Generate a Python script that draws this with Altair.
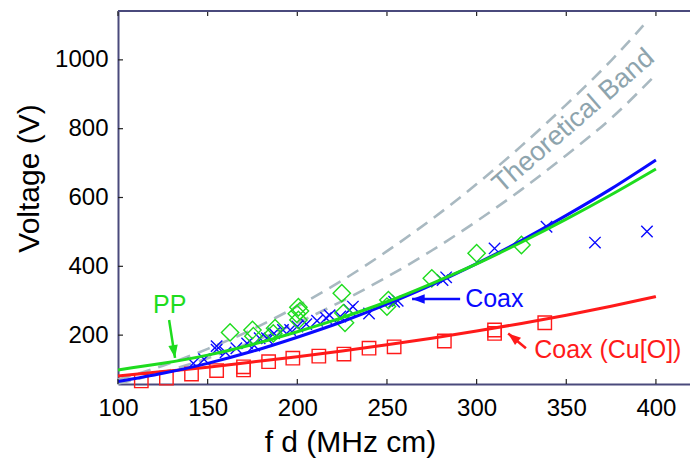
import altair as alt
import pandas as pd

FONT = "Liberation Sans"
FRAME = "#4a4a7c"
BLUE = "#0a0aff"
GREEN = "#1edc1e"
RED = "#ff1a1a"
BAND = "#a9b9c1"
BAND_TXT = "#8ea4ad"

# ---- fitted curves ----
curve_x = [100, 125, 150, 175, 200, 225, 250, 275, 300, 325, 350, 375, 400]
coax_fit = [65, 89, 118, 153, 194, 239, 290, 346, 408, 475, 548, 625, 709]
pp_fit = [99, 118, 142, 173, 210, 251, 297, 350, 407, 470, 537, 608, 683]
cu_fit = [81, 94, 107, 122, 137, 154, 172, 191, 212, 234, 258, 284, 312]
band_x = [100, 125, 150, 175, 200, 225, 250, 275, 300, 325, 350, 375, 393]
band_upper = [71, 111, 160, 217, 284, 359, 444, 537, 639, 750, 870, 998, 1100]
band_lower_x = [100, 125, 150, 175, 200, 225, 250, 275, 300, 325, 350, 375, 399]
band_lower = [59, 92, 133, 181, 236, 299, 369, 446, 531, 623, 723, 830, 952]

# ---- measured points ----
coax_x = [142, 148, 155, 155, 160, 166, 172, 176, 179, 183, 187, 192, 196, 200, 205,
          211, 216, 218, 224, 229, 231, 240, 254, 256, 281, 283, 310, 339, 366, 395]
coax_y = [118, 130, 168, 158, 150, 162, 176, 170, 191, 191, 205, 215, 215, 225, 232,
          242, 250, 258, 254, 273, 283, 263, 297, 300, 360, 368, 452, 515, 469, 501]
pp_x = [162.5, 175, 175.5, 187.6, 186.6, 200.6, 199.7, 200.6, 201.5, 224.8, 225.7,
        226.6, 250.8, 250, 275, 300, 325]
pp_y = [208, 215, 197, 220, 205, 281, 262, 244, 270, 322, 264, 236, 302, 283, 365, 438, 462]
cu_x = [113, 127, 141, 155, 170, 170, 184, 197.5, 212, 226, 240, 254, 282, 310, 310, 338]
cu_y = [67, 75, 87, 97, 108, 99, 123, 133, 139, 145, 162, 166, 183, 215, 205, 236]

# ---- axes ----
x_ticks = [100, 150, 200, 250, 300, 350, 400]
y_ticks = [200, 400, 600, 800, 1000]
X_DOMAIN = [100, 419]
Y_DOMAIN = [58, 1142]

# ---- annotations ----
label_text = ["PP", "Coax", "Coax (Cu[O])"]
label_x = [119.5, 293.6, 332.1]
label_y = [264, 283, 134]
label_color = [GREEN, BLUE, RED]
band_label = "Theoretical Band"
band_label_x = [354]
band_label_y = [822]
arrow_tail_x = [128.5, 290.8, 327.5]
arrow_tail_y = [244, 305, 162]
arrow_head_x = [131.8, 264, 317.6]
arrow_head_y = [134, 305, 205]
arrow_angle = [81, 180, 219]

W, H = 572, 373

xs = alt.Scale(domain=X_DOMAIN, nice=False, zero=False)
ys = alt.Scale(domain=Y_DOMAIN, nice=False, zero=False)

x_axis = alt.Axis(values=x_ticks, format="d", ticks=False, grid=False, labelFont=FONT,
                  labelFontSize=24, labelColor="black", labelPadding=12, labelFlush=False,
                  labelOverlap=False, domainColor=FRAME, domainWidth=2,
                  titleFont=FONT, titleFontSize=30, titleFontWeight="normal", titleColor="black",
                  titleX=232, titleY=67, titleAlign="center", titleBaseline="alphabetic")
y_axis = alt.Axis(values=y_ticks, format="d", ticks=False, grid=False, labelFont=FONT,
                  labelFontSize=24, labelColor="black", labelPadding=10, labelFlush=False,
                  labelOverlap=False, domainColor=FRAME, domainWidth=2,
                  titleFont=FONT, titleFontSize=30, titleFontWeight="normal", titleColor="black",
                  titleAngle=270, titleX=-80, titleY=167, titleAlign="center",
                  titleBaseline="alphabetic")


def X(f):
    return alt.X(f, type="quantitative", scale=xs, axis=x_axis, title="f d (MHz cm)")


def Y(f):
    return alt.Y(f, type="quantitative", scale=ys, axis=y_axis, title="Voltage (V)")


curves = pd.DataFrame({"x": curve_x, "coax": coax_fit, "pp": pp_fit, "cu": cu_fit})
band_up_df = pd.DataFrame({"x": band_x, "y": band_upper})
band_lo_df = pd.DataFrame({"x": band_lower_x, "y": band_lower})

layers = []
for df in [band_up_df, band_lo_df]:
    layers.append(alt.Chart(df).mark_line(color=BAND, strokeWidth=2.6, strokeDash=[13, 8],
                                          interpolate="monotone")
                  .encode(x=X("x"), y=Y("y")))

X_SHAPE = "M-1,-1L1,1M-1,1L1,-1"
layers.append(alt.Chart(pd.DataFrame({"x": coax_x, "y": coax_y}))
              .mark_point(shape=X_SHAPE, size=130, color=BLUE, strokeWidth=1.4, filled=False,
                          opacity=1)
              .encode(x=X("x"), y=Y("y")))
layers.append(alt.Chart(pd.DataFrame({"x": pp_x, "y": pp_y}))
              .mark_point(shape="diamond", size=300, color=GREEN, strokeWidth=1.4, filled=False,
                          opacity=1)
              .encode(x=X("x"), y=Y("y")))
layers.append(alt.Chart(pd.DataFrame({"x": cu_x, "y": cu_y}))
              .mark_point(shape="square", size=180, color=RED, strokeWidth=1.4, filled=False,
                          opacity=1)
              .encode(x=X("x"), y=Y("y")))

for col, c in [("cu", RED), ("coax", BLUE), ("pp", GREEN)]:
    layers.append(alt.Chart(curves).mark_line(color=c, strokeWidth=3, interpolate="monotone")
                  .encode(x=X("x"), y=Y(col)))

# labels
for t, lx, ly, c in zip(label_text, label_x, label_y, label_color):
    layers.append(alt.Chart(pd.DataFrame({"x": [lx], "y": [ly], "t": [t]}))
                  .mark_text(font=FONT, fontSize=25, color=c, align="left", baseline="alphabetic")
                  .encode(x=X("x"), y=Y("y"), text="t:N"))
layers.append(alt.Chart(pd.DataFrame({"x": band_label_x, "y": band_label_y, "t": [band_label]}))
              .mark_text(font=FONT, fontSize=27, color=BAND_TXT, align="center", baseline="middle",
                         angle=319)
              .encode(x=X("x"), y=Y("y"), text="t:N"))

# arrows
arrows = pd.DataFrame({"x": arrow_tail_x, "y": arrow_tail_y, "x2": arrow_head_x,
                       "y2": arrow_head_y})
ARROW_HEAD = "M0,0L-2,-0.75L-2,0.75Z"
for i in range(len(arrows)):
    row = arrows.iloc[[i]]
    c = label_color[i]
    layers.append(alt.Chart(row).mark_rule(color=c, strokeWidth=2.5)
                  .encode(x=X("x"), y=Y("y"), x2=alt.X2("x2"), y2=alt.Y2("y2")))
    layers.append(alt.Chart(row).mark_point(shape=ARROW_HEAD, size=160, filled=True, color=c,
                                            opacity=1, angle=arrow_angle[i])
                  .encode(x=X("x2"), y=Y("y2")))

# inward ticks and top frame
xt = pd.DataFrame({"t": x_ticks})
yt = pd.DataFrame({"t": y_ticks})
layers.append(alt.Chart(xt).mark_rule(color="#222222", strokeWidth=1.2)
              .encode(x=X("t"), y=alt.value(H), y2=alt.value(H - 5)))
layers.append(alt.Chart(xt).mark_rule(color="#222222", strokeWidth=1.2)
              .encode(x=X("t"), y=alt.value(0), y2=alt.value(5)))
layers.append(alt.Chart(yt).mark_rule(color="#222222", strokeWidth=1.2)
              .encode(y=Y("t"), x=alt.value(0), x2=alt.value(5)))
layers.append(alt.Chart(xt.head(1)).mark_rule(color=FRAME, strokeWidth=2)
              .encode(x=alt.value(0), x2=alt.value(W), y=alt.value(0)))

chart = (alt.layer(*layers)
         .properties(width=W, height=H, autosize=alt.AutoSizeParams(type="none"),
                     padding={"left": 118, "top": 11, "right": 0, "bottom": 79},
                     background="white")
         .configure_view(stroke=None))

chart.save("out.html", embed_options={"renderer": "svg", "actions": False})
